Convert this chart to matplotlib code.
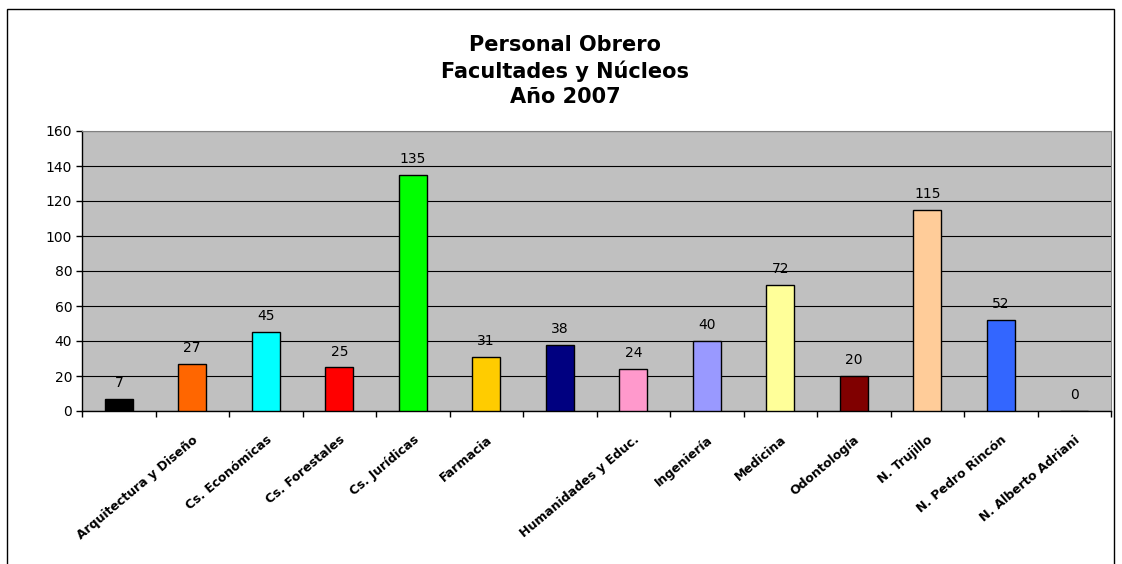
import matplotlib.pyplot as plt
from matplotlib.patches import Rectangle
import numpy as np

# datos
categorias = ['', 'Arquitectura y Diseño', 'Cs. Económicas', 'Cs. Forestales',
              'Cs. Jurídicas', 'Farmacia', '', 'Humanidades y Educ.',
              'Ingeniería', 'Medicina', 'Odontología', 'N. Trujillo',
              'N. Pedro Rincón', 'N. Alberto Adriani']
valores = [7, 27, 45, 25, 135, 31, 38, 24, 40, 72, 20, 115, 52, 0]
colores = ['#000000', '#FF6600', '#00FFFF', '#FF0000', '#00FF00', '#FFCC00',
           '#000080', '#FF99CC', '#9999FF', '#FFFF99', '#800000', '#FFCC99',
           '#3366FF', '#FFFFFF']

fig = plt.figure(figsize=(11.22, 5.64), dpi=100)
ax = fig.add_axes([82 / 1122, 153 / 564, 1029 / 1122, 280 / 564])

x = np.arange(len(valores))
ax.set_facecolor('#C0C0C0')
ax.bar(x, valores, width=0.38, color=colores, edgecolor='black', linewidth=1, zorder=3)

for xi, v in zip(x, valores):
    ax.text(xi, v + 5, str(v), ha='center', va='bottom', fontsize=10, zorder=4)

ax.set_xlim(-0.5, len(valores) - 0.5)
ax.set_ylim(0, 160)
ax.set_yticks(range(0, 161, 20))
ax.tick_params(axis='y', labelsize=10, length=4, width=1, direction='out', pad=3)
ax.yaxis.grid(True, color='black', linewidth=0.8, zorder=1)

ax.set_xticks(x)
ax.set_xticklabels(categorias, rotation=40, ha='right', rotation_mode='anchor',
                   fontsize=9, fontweight='bold')
ax.tick_params(axis='x', length=0, pad=16)
ax.set_xticks(np.arange(-0.5, len(valores), 1), minor=True)
ax.tick_params(axis='x', which='minor', length=4, width=1, direction='out')

for s in ['top', 'right']:
    ax.spines[s].set_color('#808080')
for s in ['left', 'bottom']:
    ax.spines[s].set_color('black')
    ax.spines[s].set_linewidth(1)

fig.text(565 / 1122, 1 - 71 / 564, 'Personal Obrero\nFacultades y Núcleos\nAño 2007',
         ha='center', va='center', fontsize=15, fontweight='bold', linespacing=1.3)

# marco exterior
fig.patches.append(Rectangle((7 / 1122, -0.1), 1107 / 1122, 1.1 - 9 / 564,
                             transform=fig.transFigure, fill=False,
                             edgecolor='black', linewidth=1))

plt.savefig('out.png', dpi=100)
plt.close()
